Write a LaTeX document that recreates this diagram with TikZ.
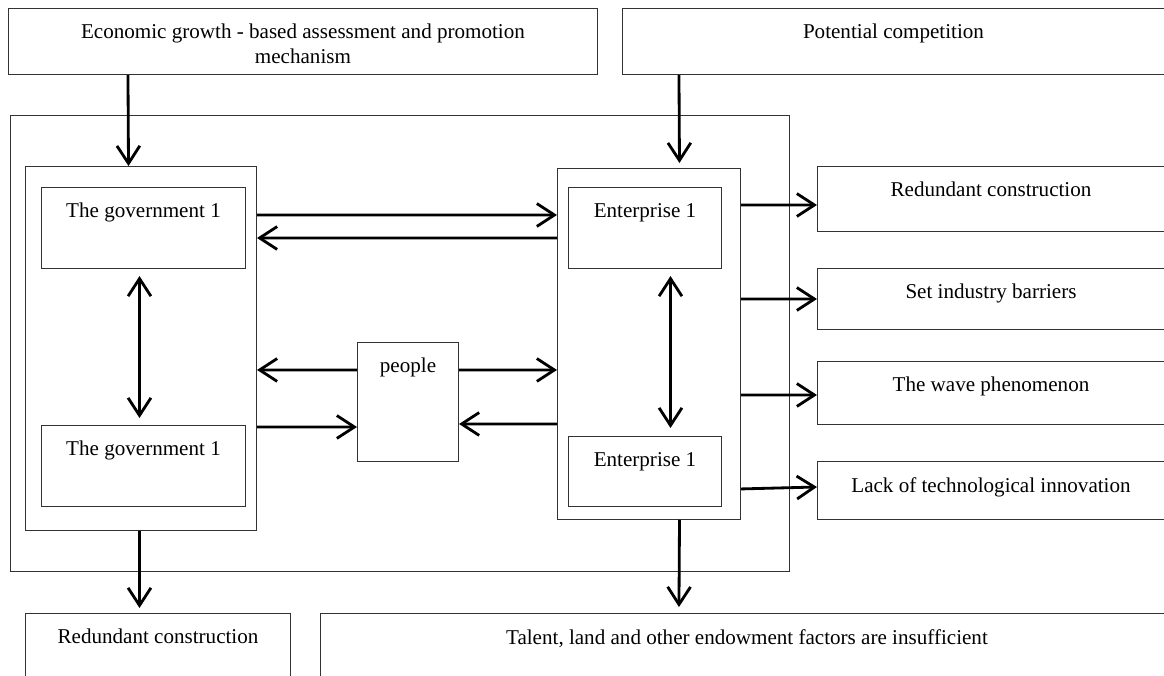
\documentclass[tikz,border=0pt]{standalone}
\usepackage{fontspec}
\setmainfont{Liberation Serif}
\usetikzlibrary{arrows.meta}

\begin{document}
\begin{tikzpicture}
  [x=0.02cm, y=-0.02cm,
   box/.style={draw=black!80, line width=0.6pt, anchor=north west, inner sep=0pt},
   lbl/.style={anchor=north, inner sep=0pt, yshift=-0.32cm, align=center,
     font=\fontsize{12}{13.8}\selectfont},
   arr/.style={-{Straight Barb[length=10pt, width=13pt]}, line width=1.6pt},
   twoway/.style={{Straight Barb[length=10pt, width=13pt]}-{Straight Barb[length=10pt, width=13pt]}, line width=1.6pt}]
  \useasboundingbox (0,0) rectangle (1164,676);
  \clip (0,0) rectangle (1164,676);

  % causes
  \node[box, minimum width=11.78cm, minimum height=1.32cm,
    label={[lbl]north:Economic growth - based assessment and promotion\\mechanism}] (econ) at (8,8) {};
  \node[box, minimum width=10.84cm, minimum height=1.32cm,
    label={[lbl]north:Potential competition}] (compet) at (622,8) {};

  % actors
  \node[box, minimum width=15.58cm, minimum height=9.12cm] (frame) at (10,115) {};
  \node[box, minimum width=4.62cm, minimum height=7.28cm] (gov) at (25,166) {};
  \node[box, minimum width=4.08cm, minimum height=1.62cm,
    label={[lbl]north:The government 1}] (gov1) at (41,187) {};
  \node[box, minimum width=4.08cm, minimum height=1.62cm,
    label={[lbl]north:The government 1}] (gov2) at (41,425) {};
  \node[box, minimum width=3.66cm, minimum height=7.02cm] (ent) at (557,168) {};
  \node[box, minimum width=3.06cm, minimum height=1.62cm,
    label={[lbl]north:Enterprise 1}] (ent1) at (568,187) {};
  \node[box, minimum width=3.06cm, minimum height=1.4cm,
    label={[lbl]north:Enterprise 1}] (ent2) at (568,436) {};
  \node[box, minimum width=2.02cm, minimum height=2.38cm,
    label={[lbl]north:people}] (people) at (357,342) {};

  % effects
  \node[box, minimum width=6.94cm, minimum height=1.3cm,
    label={[lbl]north:Redundant construction}] (redun1) at (817,166) {};
  \node[box, minimum width=6.94cm, minimum height=1.22cm,
    label={[lbl]north:Set industry barriers}] (barrier) at (817,268) {};
  \node[box, minimum width=6.94cm, minimum height=1.26cm,
    label={[lbl]north:The wave phenomenon}] (wave) at (817,361) {};
  \node[box, minimum width=6.94cm, minimum height=1.16cm,
    label={[lbl]north:Lack of technological innovation}] (innov) at (817,461) {};
  \node[box, minimum width=5.3cm, minimum height=1.6cm,
    label={[lbl]north:Redundant construction}] (redun2) at (25,613) {};
  \node[box, minimum width=17.06cm, minimum height=1.6cm,
    label={[lbl]north:{Talent, land and other endowment factors are insufficient}}] (talent) at (320,613) {};

  \draw[arr] ([xshift=2.4cm]econ.south west) -- ([xshift=-0.25cm]gov.north);
  \draw[arr, shorten >=0.1cm] ([xshift=1.14cm]compet.south west) -- ([xshift=0.61cm]ent.north);
  \draw[arr] ([yshift=-0.98cm]gov.north east) -- ([yshift=-0.94cm]ent.north west);
  \draw[arr] ([yshift=-1.4cm]ent.north west) -- ([yshift=-1.44cm]gov.north east);
  \draw[twoway, shorten <=0.14cm, shorten >=0.14cm] ([xshift=-0.08cm]gov1.south) -- ([xshift=-0.08cm]gov2.north);
  \draw[twoway, shorten <=0.14cm, shorten >=0.16cm] ([xshift=0.51cm]ent1.south) -- ([xshift=0.51cm]ent2.north);
  \draw[arr] ([yshift=-0.56cm]people.north west) -- ([yshift=-4.08cm]gov.north east);
  \draw[arr] ([yshift=-0.56cm]people.north east) -- ([yshift=-4.04cm]ent.north west);
  \draw[arr] ([yshift=-5.22cm]gov.north east) -- ([yshift=-1.7cm]people.north west);
  \draw[arr] ([yshift=-5.12cm]ent.north west) -- ([yshift=-1.64cm]people.north east);
  \draw[arr] ([yshift=-0.74cm]ent.north east) -- ([yshift=-0.78cm]redun1.north west);
  \draw[arr] ([yshift=-2.62cm]ent.north east) -- ([yshift=-0.62cm]barrier.north west);
  \draw[arr] ([yshift=-4.54cm]ent.north east) -- ([yshift=-0.68cm]wave.north west);
  \draw[arr] ([yshift=-6.42cm]ent.north east) -- ([yshift=-0.52cm]innov.north west);
  \draw[arr, shorten >=0.1cm] ([xshift=-0.03cm]gov.south) -- ([xshift=-0.37cm]redun2.north);
  \draw[arr, shorten >=0.12cm] ([xshift=0.61cm]ent.south) -- ([xshift=7.18cm]talent.north west);
\end{tikzpicture}
\end{document}
